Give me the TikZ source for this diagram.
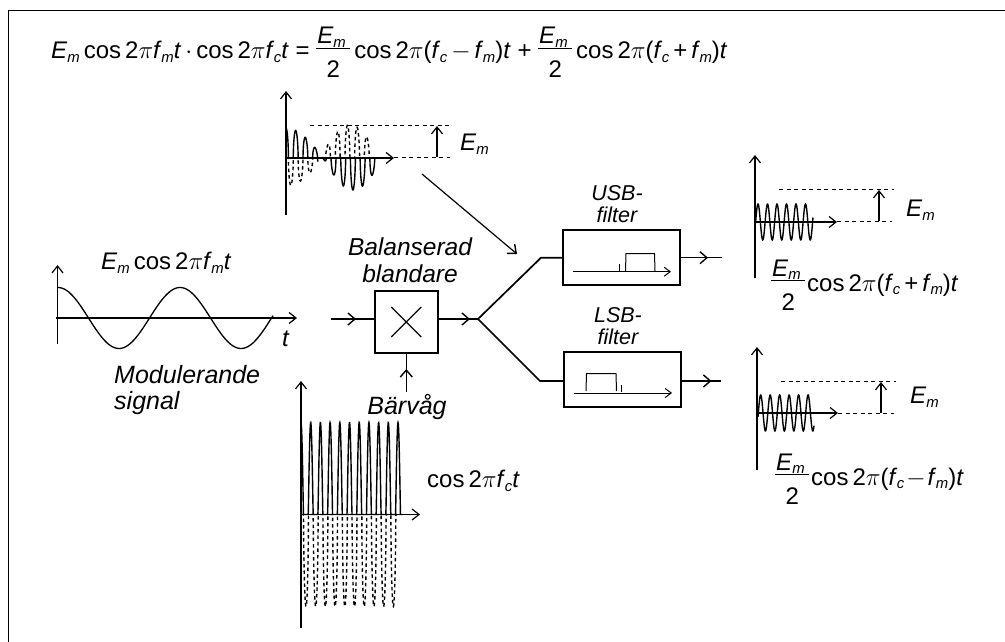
\documentclass[tikz,border=0pt]{standalone}
\usepackage{fontspec}
\setmainfont{Liberation Sans}
\usetikzlibrary{arrows.meta}
\newcommand{\F}[1]{\textit{f}\kern-0.02em\raisebox{-0.3ex}{\scalebox{0.62}{\textit{#1}}}}
\newcommand{\Em}{\textit{E}\raisebox{-0.3ex}{\scalebox{0.62}{\textit{m}}}}
\newcommand{\Frac}{\hbox to 34pt{\rlap{\kern1pt\raisebox{15pt}{\Em}}\rlap{\raisebox{10pt}{\rule{34pt}{1pt}}}\hss\raisebox{-19pt}{2}\hss}}
\newcommand{\Cos}{cos\,2\raisebox{0pt}{\textit{$\pi$}}}
\begin{document}
\begin{tikzpicture}[x=1pt,y=-1pt,
  lab/.style={inner sep=0pt,font=\fontsize{24}{25}\selectfont},
  itl/.style={inner sep=0pt,font=\fontsize{25}{26.5}\selectfont\itshape,align=center},
  itls/.style={inner sep=0pt,font=\fontsize{21.5}{22.5}\selectfont\itshape,align=center},
  ax/.style={line width=1.2pt,-{Straight Barb[length=7pt,width=11pt,line width=1.2pt]}},
  arr/.style={line width=1.4pt,-{Straight Barb[length=7pt,width=12pt,line width=1.4pt]}},
  ddash/.style={line width=1pt,dash pattern=on 4pt off 3.5pt},
  wave/.style={line width=1.4pt},
  wavedash/.style={line width=1.4pt,dash pattern=on 3.5pt off 3pt},
  box/.style={draw,line width=2pt,inner sep=0pt},
  thinl/.style={line width=1pt},
]
\useasboundingbox (0,0) rectangle (1005,642);
\draw[line width=1.3pt] (8.5,642) -- (8.5,10.5) -- (1005,10.5);

% formula
\node[lab,anchor=base west] (f1) at (51,59) {\Em\,\Cos\F{m}\textit{t}\,$\cdot$\,\Cos\F{c}\textit{t} = \Frac\,\Cos(\F{c}\,$-$\,\F{m})\textit{t} + \Frac\,\Cos(\F{c}\,+\,\F{m})\textit{t}};

% top-mixed plot
\coordinate (a1b) at (286,215); \coordinate (a1t) at (286,91);
\coordinate (a1l) at (286,158); \coordinate (a1r) at (394,158);
\draw[ax] (a1b) -- (a1t);
\draw[ax] (a1l) -- (a1r);
\draw[ddash] (310,125) -- (450,125);
\draw[ddash] (394,157.5) -- (450,157.5);
\draw[ax] (437,157) -- (437,126);
\node[lab,anchor=west] (em1) at (460,144) {\Em};
\draw[wave] plot[domain=0:37.5,samples=200] ({286+\x},{158-30*cos(\x*2.4)*sqrt(max(0,cos(\x*37.1)))});
\draw[wave] plot[domain=37:92,samples=250] ({286+\x},{158+32*sin((\x-37)*3)*sqrt(max(0,cos((\x-47.5)*37.1)))});
\draw[wavedash] plot[domain=0:34,samples=150] ({286+\x},{158+28*cos(\x*2.4)*sqrt(max(0,cos((\x-4.85)*37.1)))});
\draw[wavedash] plot[domain=37:85,samples=200] ({286+\x},{158-33*sin((\x-34)*3)*sqrt(max(0,cos((\x-42)*37.1)))});
\coordinate (s1) at (422,174); \coordinate (s2) at (517,254);
\draw[arr,line width=1.2pt] (s1) -- (s2);

% modulating
\draw[ax] (57.5,344) -- (57.5,265);
\draw[ax] (56,318) -- (297,318);
\draw[line width=1.3pt] plot[domain=0:215,samples=120] ({58+\x},{318-30.5*cos(\x*2.95)});
\node[lab,anchor=west] (em2) at (101,263) {\Em\,\Cos\F{m}\textit{t}};
\node[lab,anchor=west] (tt) at (282,339) {\itshape t};
\node[itl,anchor=west,align=left] (mod) at (114,390) {Modulerande\\signal};

% mixer
\node[box,minimum width=62.5pt,minimum height=62.5pt] (mix) at (406.3,322) {};
\draw[line width=1.3pt] (mix.center) ++(-15,-15) -- ++(30,30);
\draw[line width=1.3pt] (mix.center) ++(15,-15) -- ++(-30,30);
\node[itl,font=\fontsize{24.5}{26.5}\selectfont\itshape] (bal) at (410,260) {Balanserad\\blandare};
\coordinate (inL) at (331,319);
\draw[arr] (inL) -- (356,319);
\draw[line width=1.4pt] (350,319) -- (mix.west |- inL);
\coordinate (inB) at (406.3,392);
\draw[arr] (inB) -- (406.3,369);
\draw[line width=1.4pt] (406.3,375) -- (mix.south);
\coordinate (j) at (478,319);
\draw[arr] (mix.east |- j) -- (470,319);
\draw[line width=1.4pt] (464,319) -- (j);
\node[itl] (barv) at (407,407) {Bärvåg};

% filters
\node[box,minimum width=117pt,minimum height=55pt] (usb) at (621.3,257.5) {};
\node[box,minimum width=117pt,minimum height=55pt] (lsb) at (622.5,379) {};
\node[itls] at (617,204) {USB-\\filter};
\node[itls] at (618,326) {LSB-\\filter};
\coordinate (ub) at (541,257.7);
\coordinate (lb) at (540,381);
\draw[line width=1.7pt] (j) -- (ub) -- (usb.west |- ub);
\draw[line width=1.7pt] (j) -- (lb) -- (lsb.west |- lb);
\coordinate (uo) at (722,257.7);
\coordinate (lo) at (721,381);
\draw[arr] (usb.east |- uo) -- (708,257.7);
\draw[line width=1.4pt] (700,257.7) -- (uo);
\draw[arr] (lsb.east |- lo) -- (711.5,381);
\draw[line width=1.4pt] (700,381) -- (lo);
% filter contents
\draw[thinl,-{Straight Barb[length=6pt,width=9pt,line width=1pt]}] (573,271.7) -- (671,271.7);
\draw[thinl] (619,264) -- (619,271);
\draw[thinl] (625.5,271) -- (626,253.7) -- (654.5,253.7) -- (655,271);
\draw[thinl,-{Straight Barb[length=6pt,width=9pt,line width=1pt]}] (574,393) -- (672,393);
\draw[thinl] (586,391) -- (586.5,373.7) -- (616,373.7) -- (616.5,391);
\draw[thinl] (621.7,385) -- (621.7,392);

% USB output plot
\draw[ax] (755,278) -- (755,155);
\draw[ax] (755,222) -- (837,222);
\draw[ddash] (779,189) -- (894,189);
\draw[ddash] (837,221.5) -- (892,221.5);
\draw[ax] (879,221) -- (879,190);
\node[lab,anchor=west] at (906,210) {\Em};
\draw[wave] plot[domain=755.5:813,samples=200] ({\x},{222-18*cos((\x-758)*37.9)});
\node[lab,anchor=base west] at (771,291) {\Frac\kern2pt\Cos(\F{c}\,+\,\F{m})\textit{t}};

% LSB output plot
\draw[ax] (757,470) -- (757,347);
\draw[ax] (757,413) -- (838,413);
\draw[ddash] (781,381) -- (896,381);
\draw[ddash] (838,413) -- (894,413);
\draw[ax] (881,413) -- (881,382);
\node[lab,anchor=west] at (910,397) {\Em};
\draw[wave] plot[domain=758:814,samples=200] ({\x},{413-18*cos((\x-760.7)*38)});
\node[lab,anchor=base west] at (775,485) {\Frac\kern2pt\Cos(\F{c}\kern2pt$-$\kern2pt\F{m})\textit{t}};

% carrier
\draw[ax] (301,628) -- (301,381);
\draw[ax] (300,514.5) -- (420,514.5);
\draw[wave] plot[domain=0:101.5,samples=500] ({301+\x},{514.5-92*max(0,cos(\x*37.1))});
\draw[wavedash] plot[domain=0:96,samples=500] ({301+\x},{514.5+92*sqrt(max(0,cos((\x-5)*37.1)))});
\node[lab,anchor=west] at (427,481) {\Cos\F{c}\textit{t}};
\end{tikzpicture}
\end{document}
